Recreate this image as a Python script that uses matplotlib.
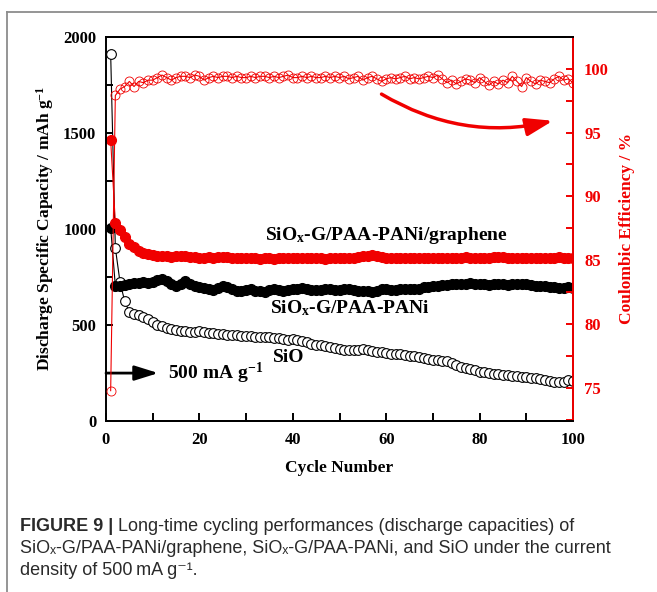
import matplotlib
matplotlib.use("Agg")
import matplotlib.pyplot as plt
from matplotlib.lines import Line2D
from matplotlib.ticker import MultipleLocator

plt.rcParams['font.family'] = ['Liberation Serif', 'DejaVu Serif']
plt.rcParams['font.weight'] = 'bold'
plt.rcParams['axes.labelweight'] = 'bold'
plt.rcParams['mathtext.fontset'] = 'custom'
plt.rcParams['mathtext.rm'] = 'Liberation Serif:bold'
plt.rcParams['mathtext.bf'] = 'Liberation Serif:bold'
plt.rcParams['mathtext.it'] = 'Liberation Serif:bold'
plt.rcParams['mathtext.default'] = 'bf'

RED = '#f00000'

cycles = list(range(1, 101))

# SiOx-G/PAA-PANi/graphene, discharge capacity (mAh/g)
cap_graphene = [1460, 1030, 993, 958, 918, 905, 885, 875, 866, 862,
                860, 858, 856, 855, 858, 860, 858, 855, 852, 850,
                850, 852, 850, 852, 855, 852, 850, 848, 846, 846,
                848, 846, 844, 845, 846, 844, 845, 846, 848, 846,
                845, 846, 848, 846, 845, 846, 844, 845, 846, 848,
                846, 845, 848, 852, 856, 860, 862, 858, 852, 850,
                848, 846, 848, 850, 848, 846, 845, 846, 848, 850,
                848, 846, 845, 846, 848, 850, 852, 850, 848, 846,
                848, 850, 852, 854, 852, 850, 848, 846, 845, 846,
                848, 850, 848, 846, 848, 850, 852, 850, 848, 846]

# SiOx-G/PAA-PANi
cap_pani = [1005, 702, 700, 705, 712, 718, 716, 720, 718, 725,
            732, 738, 728, 712, 700, 712, 728, 712, 700, 695,
            690, 686, 682, 690, 700, 694, 684, 678, 676, 680,
            684, 678, 674, 672, 680, 686, 682, 678, 680, 684,
            686, 690, 686, 682, 680, 682, 686, 684, 680, 682,
            686, 684, 680, 676, 678, 674, 672, 678, 684, 686,
            682, 680, 684, 688, 686, 684, 688, 694, 698, 700,
            704, 706, 708, 710, 712, 712, 714, 716, 714, 712,
            710, 708, 710, 712, 710, 708, 710, 712, 714, 712,
            708, 704, 702, 700, 696, 694, 690, 692, 694, 692]

# SiO
cap_sio = [1910, 900, 722, 622, 566, 558, 550, 540, 530, 512,
           500, 492, 485, 478, 472, 468, 465, 462, 460, 468,
           462, 458, 455, 452, 450, 448, 446, 444, 443, 442,
           440, 438, 437, 436, 436, 432, 430, 426, 422, 426,
           420, 414, 408, 402, 396, 392, 388, 382, 378, 374,
           370, 368, 366, 370, 376, 368, 364, 360, 356, 352,
           350, 348, 345, 342, 338, 335, 332, 328, 322, 318,
           314, 312, 310, 300, 290, 282, 275, 268, 262, 256,
           252, 248, 245, 242, 238, 236, 234, 232, 230, 228,
           224, 220, 216, 210, 205, 202, 200, 204, 210, 206]

# Coulombic efficiency (%)
ce = [74.8, 97.9, 98.4, 98.6, 99.0, 98.6, 99.0, 98.9, 99.1, 99.1,
      99.3, 99.5, 99.3, 99.1, 99.3, 99.4, 99.4, 99.3, 99.5, 99.4,
      99.1, 99.3, 99.4, 99.3, 99.4, 99.4, 99.3, 99.4, 99.3, 99.3,
      99.4, 99.3, 99.4, 99.4, 99.3, 99.4, 99.3, 99.4, 99.5, 99.3,
      99.3, 99.4, 99.3, 99.4, 99.3, 99.3, 99.4, 99.3, 99.4, 99.3,
      99.4, 99.2, 99.3, 99.4, 99.1, 99.3, 99.4, 99.2, 99.0, 99.2,
      99.3, 99.2, 99.3, 99.4, 99.2, 99.3, 99.2, 99.3, 99.4, 99.3,
      99.5, 99.2, 98.9, 99.1, 98.8, 99.0, 99.2, 99.1, 98.9, 99.3,
      99.0, 98.7, 99.0, 98.8, 99.1, 98.9, 99.4, 99.0, 98.6, 99.3,
      99.0, 98.8, 99.1, 99.0, 98.9, 99.2, 99.4, 99.1, 99.2, 98.9]

fig = plt.figure(figsize=(6.57, 5.92), dpi=100)
ax = fig.add_axes([106/657, 1-420.7/592, (573-106)/657, (420.7-36.7)/592])
ax2 = ax.twinx()

ax.plot(cycles, cap_sio, color='black', lw=0.8, marker='o', ms=7,
        mfc='white', mec='black', mew=0.8)
ax.plot(cycles, cap_pani, color='black', lw=0.8, marker='o', ms=7,
        mfc='black', mec='black')
ax.plot(cycles, cap_graphene, color=RED, lw=0.8, marker='o', ms=7,
        mfc=RED, mec=RED)
ax2.plot(cycles, ce, color=RED, lw=0.8, marker='o', ms=6.5,
         mfc='none', mec=RED, mew=0.6)

ax.set_xlim(0, 100)
ax.set_ylim(0, 2000)
ax2.set_ylim(72.45, 102.5)

ax.xaxis.set_major_locator(MultipleLocator(20))
ax.xaxis.set_minor_locator(MultipleLocator(10))
ax.yaxis.set_major_locator(MultipleLocator(500))
ax.yaxis.set_minor_locator(MultipleLocator(250))
ax2.yaxis.set_major_locator(MultipleLocator(5))
ax2.yaxis.set_minor_locator(MultipleLocator(2.5))

for a in (ax, ax2):
    for s in a.spines.values():
        s.set_linewidth(1.4)
ax2.spines['right'].set_color(RED)
ax2.spines['left'].set_visible(False)

ax.tick_params(axis='both', which='both', direction='in', width=1.4,
               labelsize=12, top=False, right=False)
ax.tick_params(axis='x', which='both', length=6, pad=8)
ax.tick_params(axis='y', which='both', length=5, pad=7)
ax2.tick_params(axis='y', which='both', direction='in', width=1.4, length=5,
                color=RED, labelcolor=RED, labelsize=12, pad=8)

ax.set_xlabel('Cycle Number', fontsize=12.5, labelpad=9)
ax.set_ylabel('Discharge Specific Capacity / mAh g$^{-1}$', fontsize=12.5, labelpad=5)
ax2.set_ylabel('Coulombic Efficiency / %', fontsize=12.5, color=RED, labelpad=7)

ax.text(34.0, 967, 'SiO$_x$-G/PAA-PANi/graphene', fontsize=14, ha='left', va='center')
ax.text(35.1, 586, 'SiO$_x$-G/PAA-PANi', fontsize=14, ha='left', va='center')
ax.text(35.8, 327, 'SiO', fontsize=14, ha='left', va='center')
ax.text(13.3, 248, '500 mA g$^{-1}$', fontsize=14, ha='left', va='center')

ax.annotate('', xy=(11.2, 248), xytext=(0, 248),
            arrowprops=dict(arrowstyle='-|>,head_length=0.8,head_width=0.25',
                            color='black', lw=2, mutation_scale=18,
                            shrinkA=0, shrinkB=0))
ax.annotate('', xy=(95.7, 1562), xytext=(59.0, 1701),
            arrowprops=dict(arrowstyle='-|>,head_length=0.9,head_width=0.3',
                            color=RED, lw=2.5, mutation_scale=18,
                            shrinkA=0, shrinkB=0,
                            connectionstyle='arc3,rad=0.2'))

# panel frame
fig.add_artist(Line2D([7/657, 1], [1-12/592, 1-12/592], transform=fig.transFigure,
                      color='#8c8c8c', lw=1.3))
fig.add_artist(Line2D([7/657, 7/657], [0, 1-12/592], transform=fig.transFigure,
                      color='#8c8c8c', lw=1.3))

# caption
cap_font = ['Liberation Sans', 'DejaVu Sans']
cap_size = 13
cap_col = '#2a2a2a'
t1 = fig.text(20/657, 1-531/592, 'FIGURE 9 |', family=cap_font, weight='bold',
              fontsize=cap_size, color=cap_col, va='baseline')
ax.annotate(' Long-time cycling performances (discharge capacities) of',
            xy=(1, 0), xycoords=t1, va='bottom', ha='left', family=cap_font,
            weight='normal', fontsize=cap_size, color=cap_col, annotation_clip=False)
fig.text(20/657, 1-553/592,
         'SiO\u2093-G/PAA-PANi/graphene, SiO\u2093-G/PAA-PANi, and SiO under the current',
         family=cap_font, weight='normal', fontsize=cap_size, color=cap_col, va='baseline')
fig.text(20/657, 1-575/592, 'density of 500\u2009mA g\u207b\u00b9.',
         family=cap_font, weight='normal', fontsize=cap_size, color=cap_col, va='baseline')

fig.savefig('out.png', dpi=100)
